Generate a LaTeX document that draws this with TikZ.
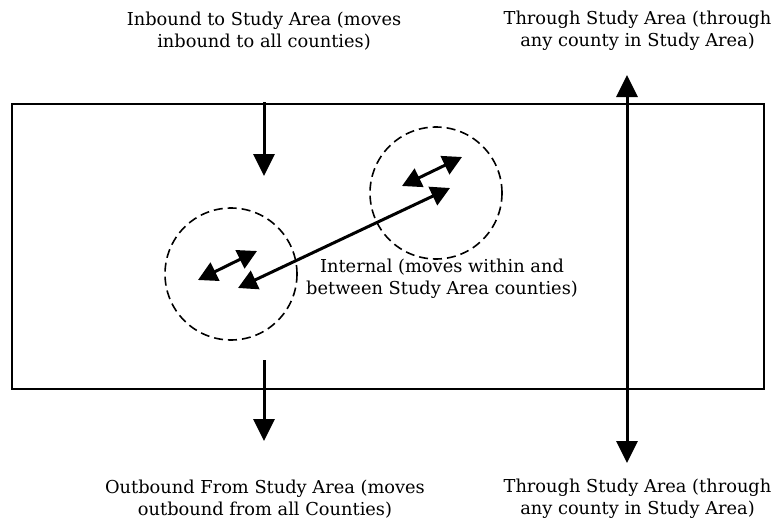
\documentclass[tikz,border=0pt]{standalone}
\usepackage{fontspec}
\setmainfont{DejaVu Serif}
\usetikzlibrary{arrows.meta}
\begin{document}
\begin{tikzpicture}[x=1pt,y=-1pt,
  lbl/.style={align=center,font=\fontsize{17.8}{22}\selectfont,inner sep=0pt},
  bigarrow/.style={line width=3pt,-{Triangle[length=22pt,width=21pt]}},
  dblarrow/.style={line width=3pt,{Triangle[length=19pt,width=20pt]}-{Triangle[length=19pt,width=20pt]}},
  county/.style={circle,draw,dash pattern=on 9pt off 5pt,line width=1.6pt,minimum size=132pt,inner sep=0pt}]
\useasboundingbox (0,0) rectangle (775,527);
\node[draw,line width=2pt,minimum width=752pt,minimum height=285pt,inner sep=0pt] (area) at (388,246.5) {};
\node[county] (cL) at (231,274) {};
\node[county] (cR) at (436,193) {};
\node[lbl] (tin) at (264,31) {Inbound to Study Area (moves\\inbound to all counties)};
\node[lbl] (tthru) at (637.5,31) {Through Study Area (through\\any county in Study Area)};
\node[lbl] (tout) at (265,499) {Outbound From Study Area (moves\\outbound from all Counties)};
\node[lbl] (tthru2) at (637.5,499) {Through Study Area (through\\any county in Study Area)};
\node[lbl] (tint) at (442,279) {Internal (moves within and\\between Study Area counties)};
\coordinate (in1) at (264,102);
\coordinate (in2) at (264,176);
\coordinate (out1) at (264,360);
\coordinate (out2) at (264,441);
\coordinate (th1) at (627,463);
\coordinate (th2) at (627,75);
\coordinate (l1) at (198,280);
\coordinate (l2) at (257,251);
\coordinate (r1) at (402,186);
\coordinate (r2) at (462,157);
\coordinate (m1) at (238,288);
\coordinate (m2) at (450,188);
\draw[bigarrow] (in1) -- (in2);
\draw[bigarrow] (out1) -- (out2);
\draw[bigarrow,{Triangle[length=22pt,width=21pt]}-{Triangle[length=22pt,width=21pt]}] (th1) -- (th2);
\draw[dblarrow] (l1) -- (l2);
\draw[dblarrow] (r1) -- (r2);
\draw[dblarrow] (m1) -- (m2);
\end{tikzpicture}
\end{document}
